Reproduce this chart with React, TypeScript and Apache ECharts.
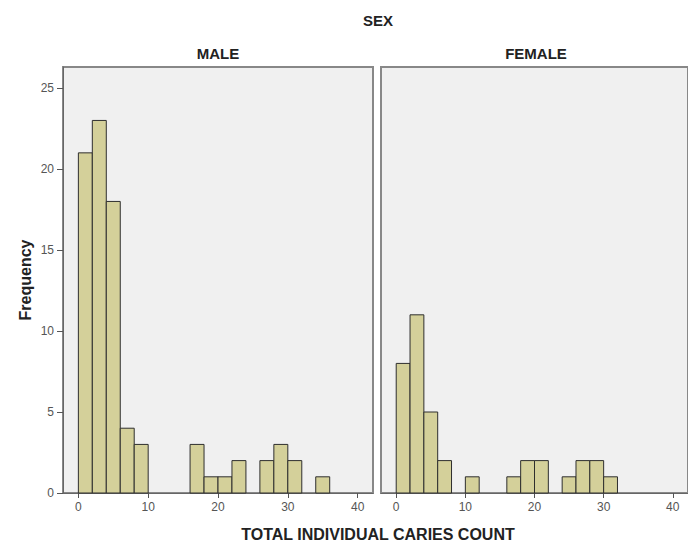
import React, { useEffect, useRef } from "react";
import * as echarts from "echarts";

const binStarts = [0, 2, 4, 6, 8, 10, 12, 14, 16, 18, 20, 22, 24, 26, 28, 30, 32, 34];
const binWidth = 2;
const maleCounts = [21, 23, 18, 4, 3, 0, 0, 0, 3, 1, 1, 2, 0, 2, 3, 2, 0, 1];
const femaleCounts = [8, 11, 5, 2, 0, 1, 0, 0, 1, 2, 2, 0, 1, 2, 2, 1, 0, 0];
const panelNames = ["MALE", "FEMALE"];
const xTicks = [0, 10, 20, 30, 40];
const yTicks = [0, 5, 10, 15, 20, 25];

const FONT = "'Liberation Sans', Arial, sans-serif";

function toData(counts: number[]) {
  return counts
    .map((c, i) => [binStarts[i], binStarts[i] + binWidth, c])
    .filter((d) => d[2] > 0);
}

export default function App() {
  const ref = useRef<HTMLDivElement>(null);
  useEffect(() => {
    if (!ref.current) return;
    const chart = echarts.init(ref.current, null, { renderer: "svg" });
    const renderItem = (params: any, api: any) => {
      const p0 = api.coord([api.value(0), api.value(2)]);
      const p1 = api.coord([api.value(1), 0]);
      return {
        type: "rect",
        shape: { x: p0[0], y: p0[1], width: p1[0] - p0[0], height: p1[1] - p0[1] },
        style: { fill: "#d4d09a", stroke: "#2e2e2e", lineWidth: 1 },
      };
    };
    const xAxisBase = (gi: number) => ({
      type: "value",
      gridIndex: gi,
      min: -2.2,
      max: 42.2,
      splitLine: { show: false },
      axisLine: { show: true, onZero: false, lineStyle: { color: "#666", width: 1 } },
      axisTick: { show: true, length: 5, lineStyle: { color: "#555" }, customValues: xTicks },
      axisLabel: { color: "#555", fontSize: 12, fontFamily: FONT, margin: 8, customValues: xTicks },
    });
    const yAxisBase = (gi: number, showLabels: boolean) => ({
      type: "value",
      gridIndex: gi,
      min: 0,
      max: 26.3,
      splitLine: { show: false },
      axisLine: { show: showLabels, onZero: false, lineStyle: { color: "#666" } },
      axisTick: { show: showLabels, length: 6, lineStyle: { color: "#555" }, customValues: yTicks },
      axisLabel: { show: showLabels, color: "#555", fontSize: 12, fontFamily: FONT, margin: 9, customValues: yTicks },
      name: showLabels ? "Frequency" : "",
      nameLocation: "middle",
      nameRotate: 90,
      nameGap: 30,
      nameTextStyle: { fontWeight: "bold", fontSize: 16, color: "#222", fontFamily: FONT },
    });
    chart.setOption({
      animation: false,
      backgroundColor: "#ffffff",
      grid: [
        { left: 63, top: 67, width: 310, height: 426, show: true, backgroundColor: "#f0f0f0", borderColor: "#888", borderWidth: 2 },
        { left: 381, top: 67, width: 310, height: 426, show: true, backgroundColor: "#f0f0f0", borderColor: "#888", borderWidth: 2 },
      ],
      xAxis: [xAxisBase(0), xAxisBase(1)],
      yAxis: [yAxisBase(0, true), yAxisBase(1, false)],
      graphic: [
        { type: "text", x: 378, y: 20, style: { text: "SEX", font: `bold 15px ${FONT}`, fill: "#222", align: "center", verticalAlign: "middle" } },
        { type: "text", x: 218, y: 53, style: { text: panelNames[0], font: `bold 15px ${FONT}`, fill: "#222", align: "center", verticalAlign: "middle" } },
        { type: "text", x: 536, y: 53, style: { text: panelNames[1], font: `bold 15px ${FONT}`, fill: "#222", align: "center", verticalAlign: "middle" } },
        { type: "text", x: 378, y: 534, style: { text: "TOTAL INDIVIDUAL CARIES COUNT", font: `bold 16px ${FONT}`, fill: "#222", align: "center", verticalAlign: "middle" } },
      ],
      series: [
        { type: "custom", xAxisIndex: 0, yAxisIndex: 0, renderItem, encode: { x: [0, 1], y: 2 }, data: toData(maleCounts) },
        { type: "custom", xAxisIndex: 1, yAxisIndex: 1, renderItem, encode: { x: [0, 1], y: 2 }, data: toData(femaleCounts) },
      ],
    });
    return () => chart.dispose();
  }, []);
  return <div ref={ref} style={{ position: "fixed", left: 0, top: 0, width: 688, height: 544 }} />;
}
